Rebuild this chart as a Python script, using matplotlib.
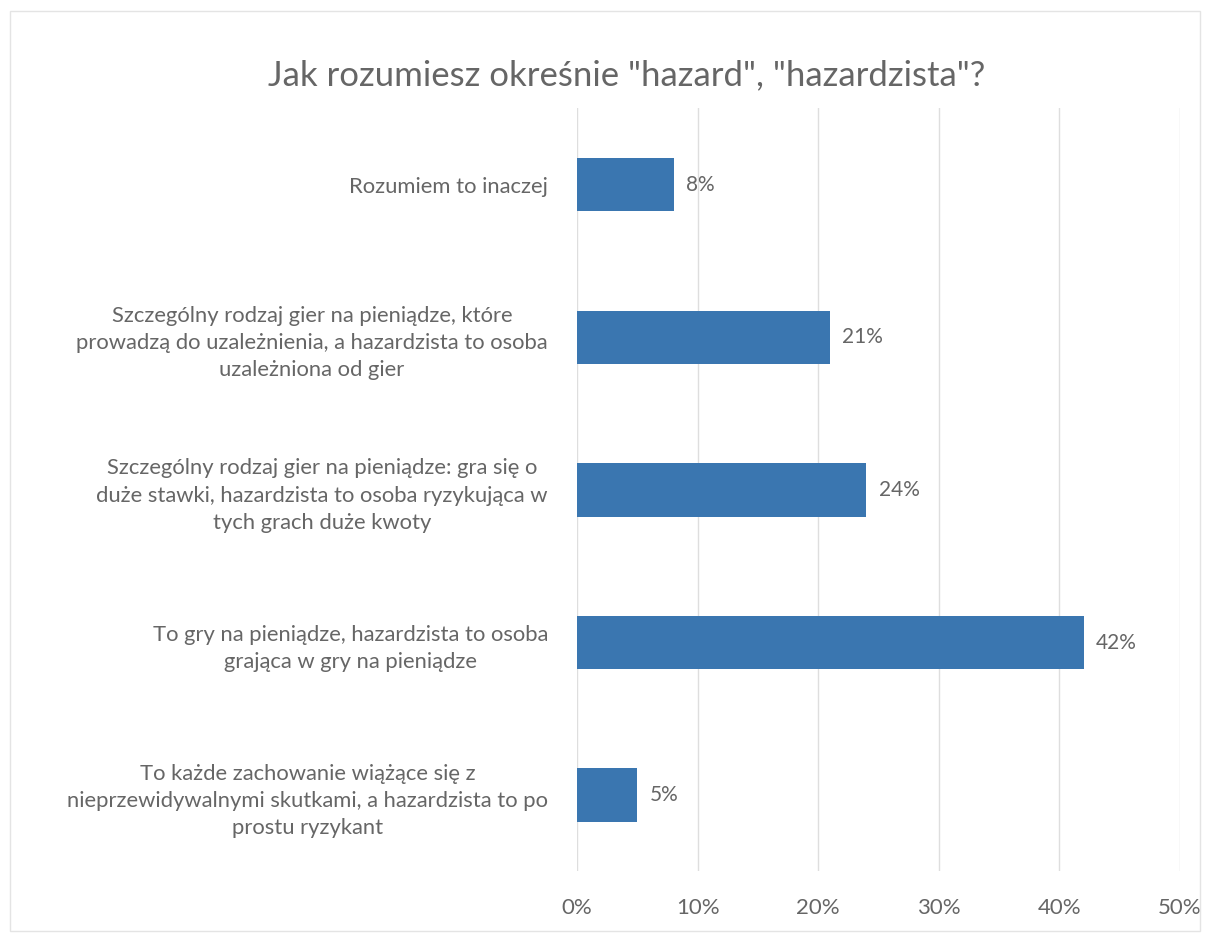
import matplotlib.pyplot as plt
from matplotlib.patches import Rectangle
from matplotlib.ticker import PercentFormatter

# data (top to bottom as in the chart)
categories = [
    "Rozumiem to inaczej",
    "Szczególny rodzaj gier na pieniądze, które\nprowadzą do uzależnienia, a hazardzista to osoba\nuzależniona od gier",
    "Szczególny rodzaj gier na pieniądze: gra się o\nduże stawki, hazardzista to osoba ryzykująca w\ntych grach duże kwoty",
    "To gry na pieniądze, hazardzista to osoba\ngrająca w gry na pieniądze",
    "To każde zachowanie wiążące się z\nnieprzewidywalnymi skutkami, a hazardzista to po\nprostu ryzykant",
]
values = [8, 21, 24, 42, 5]
x_ticks = [0, 10, 20, 30, 40, 50]

title = 'Jak rozumiesz okreśnie "hazard", "hazardzista"?'

plt.rcParams['font.family'] = ['Lato', 'DejaVu Sans']
text_color = '#666666'
bar_color = '#3a76b0'

fig = plt.figure(figsize=(12.1, 9.4), dpi=100)
ax = fig.add_axes([0.4769, 0.0729, 0.4983, 0.8117])

ypos = list(range(len(categories)))
ax.barh(ypos, values, height=0.35, color=bar_color, zorder=3)
ax.set_yticks(ypos)
ax.set_yticklabels(categories, fontsize=15.8, color=text_color,
                   multialignment='center', linespacing=1.45)
ax.set_ylim(len(categories) - 0.5, -0.5)

ax.set_xlim(0, 50)
ax.set_xticks(x_ticks)
ax.xaxis.set_major_formatter(PercentFormatter(decimals=0))
ax.tick_params(axis='x', labelsize=16, labelcolor=text_color, length=0, pad=19)
ax.tick_params(axis='y', length=0, pad=21)
ax.grid(axis='x', color='#dedede', linewidth=1, zorder=0)
for s in ax.spines.values():
    s.set_visible(False)

# value labels
for y, v in zip(ypos, values):
    ax.text(v + 1.0, y, f"{v}%", va='center', ha='left', fontsize=15,
            color=text_color)

fig.text(0.518, 0.92, title, ha='center', va='center', fontsize=25,
         color=text_color)

# outer chart border
fig.patches.append(Rectangle((0.008, 0.01), 0.984, 0.978, transform=fig.transFigure,
                             fill=False, edgecolor='#e4e4e4', linewidth=1))

fig.savefig('out.png', dpi=100)
